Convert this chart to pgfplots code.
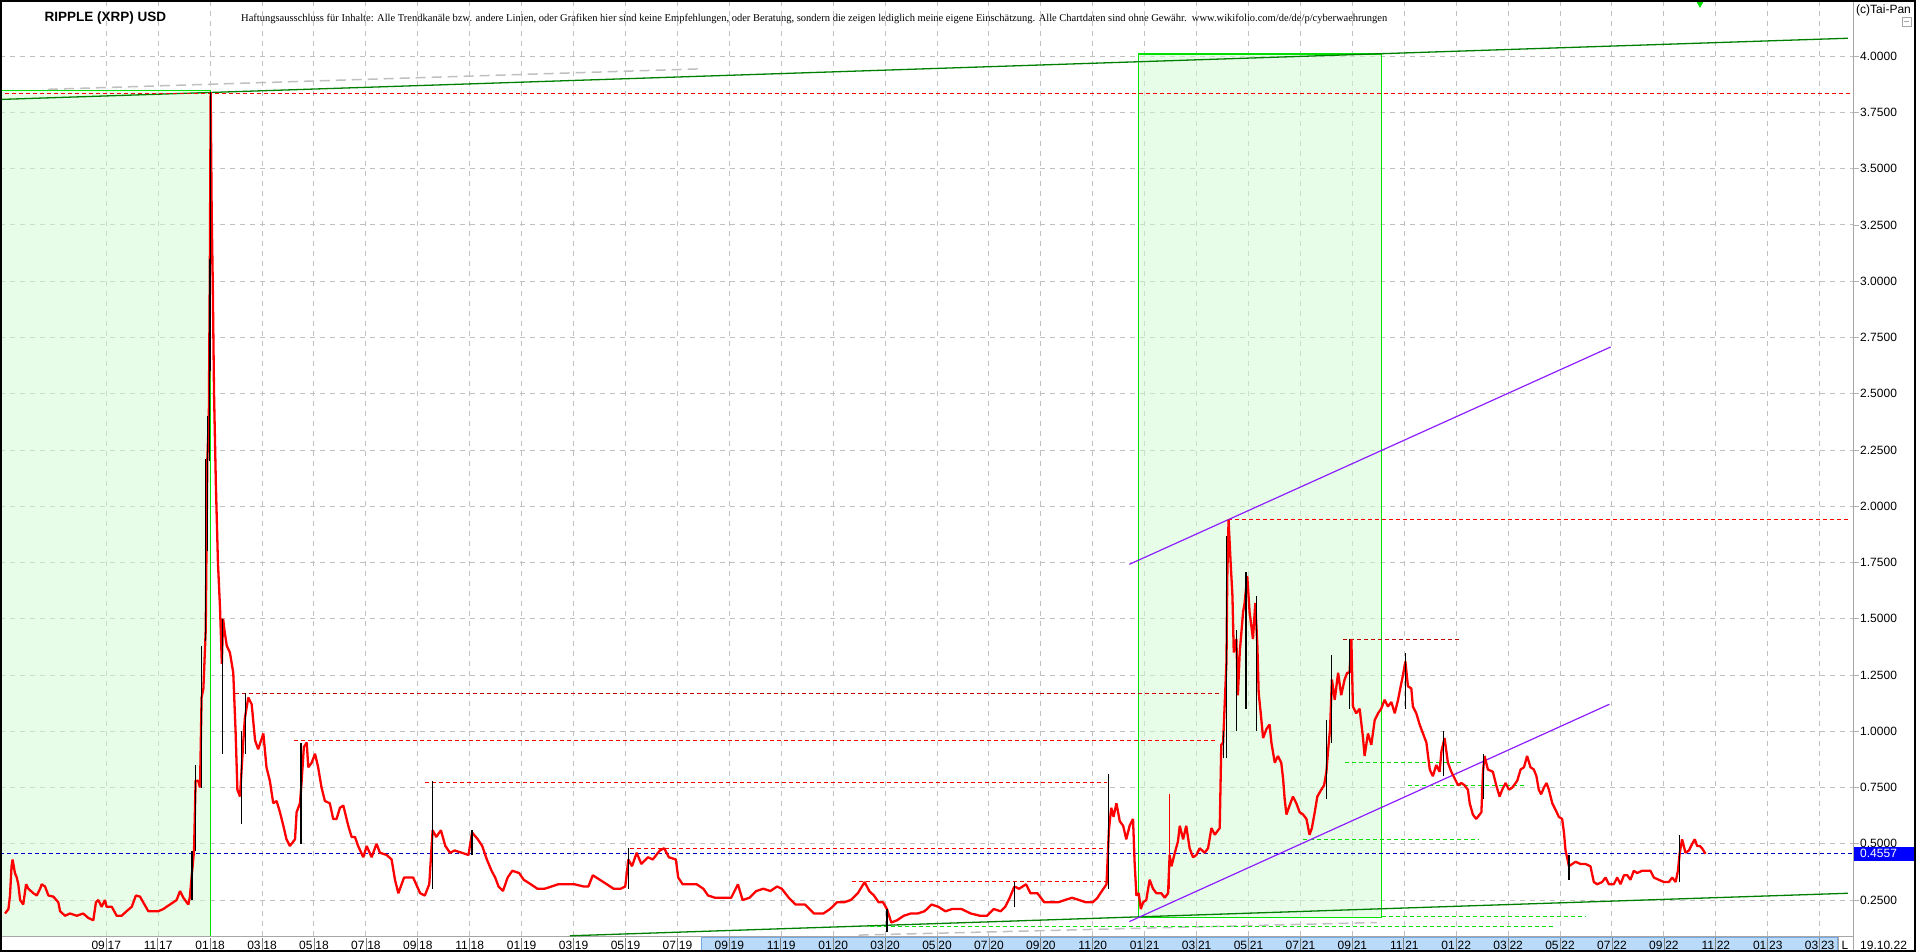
\documentclass[border=0pt]{standalone}
\usepackage{pgfplots}
\pgfplotsset{compat=1.18}
\usepackage{pgfplotstable}
\usepackage{fontspec}
\setmainfont{Liberation Sans}
\newfontfamily\discfont{Liberation Serif}

\definecolor{xred}{RGB}{255,0,0}
\definecolor{lgreen}{RGB}{0,225,0}
\definecolor{dgreen}{RGB}{0,128,0}
\definecolor{rectfill}{RGB}{210,252,210}
\definecolor{gridgray}{RGB}{192,192,192}
\definecolor{purp}{RGB}{140,30,255}
\definecolor{lineblue}{RGB}{0,0,200}
\definecolor{boxblue}{RGB}{0,0,255}
\definecolor{bandblue}{RGB}{185,218,248}
\definecolor{bandedge}{RGB}{120,170,225}

\newcommand{\tl}[2]{#1\hspace{1pt}{\color{gray}\rule[-2pt]{0.8pt}{13pt}}\hspace{1pt}#2}

% price (closing values), x = months since Jan 2017
\pgfplotstableread{
m v
4.10 0.19
4.23 0.21
4.29 0.27
4.35 0.40
4.39 0.43
4.48 0.37
4.55 0.35
4.61 0.32
4.68 0.25
4.80 0.23
4.91 0.32
5.00 0.30
5.19 0.28
5.32 0.27
5.45 0.30
5.51 0.32
5.64 0.31
5.77 0.27
5.96 0.265
6.15 0.24
6.22 0.20
6.41 0.18
6.60 0.19
6.86 0.18
7.11 0.19
7.31 0.17
7.50 0.16
7.60 0.24
7.69 0.25
7.82 0.22
7.95 0.25
8.01 0.22
8.21 0.22
8.40 0.18
8.59 0.18
8.78 0.20
8.98 0.22
9.14 0.27
9.30 0.265
9.42 0.24
9.62 0.20
9.81 0.20
10.00 0.20
10.20 0.21
10.32 0.22
10.52 0.235
10.71 0.25
10.84 0.29
10.97 0.26
11.16 0.23
11.22 0.265
11.30 0.37
11.38 0.47
11.44 0.78
11.54 0.78
11.61 0.75
11.67 1.15
11.74 1.19
11.83 1.45
11.89 2.20
11.95 2.40
11.99 3.10
12.02 3.84
12.06 3.30
12.10 3.00
12.15 2.50
12.22 2.10
12.30 1.75
12.38 1.55
12.45 1.30
12.50 1.50
12.55 1.45
12.64 1.38
12.76 1.35
12.89 1.26
12.98 1.00
13.05 0.74
13.15 0.71
13.28 0.96
13.34 1.06
13.47 1.15
13.60 1.12
13.73 0.96
13.85 0.92
14.05 0.99
14.17 0.84
14.30 0.78
14.43 0.68
14.56 0.69
14.69 0.64
14.82 0.58
14.94 0.52
15.07 0.49
15.27 0.52
15.33 0.64
15.46 0.68
15.52 0.77
15.61 0.93
15.72 0.95
15.78 0.84
15.91 0.86
16.04 0.90
16.16 0.84
16.29 0.75
16.42 0.69
16.61 0.68
16.74 0.61
16.87 0.61
17.00 0.66
17.13 0.67
17.32 0.58
17.45 0.53
17.58 0.53
17.70 0.49
17.90 0.44
18.03 0.49
18.22 0.44
18.41 0.50
18.54 0.46
18.80 0.45
18.99 0.43
19.12 0.34
19.25 0.28
19.47 0.35
19.82 0.35
20.09 0.28
20.27 0.27
20.44 0.32
20.57 0.56
20.71 0.53
20.89 0.56
21.06 0.49
21.24 0.46
21.42 0.47
21.69 0.46
21.95 0.45
22.09 0.55
22.31 0.52
22.48 0.49
22.66 0.43
22.84 0.38
22.98 0.35
23.11 0.31
23.28 0.29
23.46 0.35
23.64 0.38
23.90 0.37
24.08 0.34
24.35 0.32
24.61 0.30
24.88 0.30
25.15 0.31
25.41 0.32
25.68 0.32
26.03 0.32
26.39 0.31
26.57 0.31
26.74 0.36
27.01 0.34
27.28 0.32
27.54 0.30
27.81 0.30
27.99 0.31
28.11 0.43
28.25 0.40
28.43 0.46
28.61 0.41
28.87 0.44
29.05 0.43
29.32 0.47
29.49 0.48
29.67 0.44
29.94 0.43
30.03 0.35
30.20 0.32
30.47 0.32
30.74 0.32
31.00 0.30
31.18 0.27
31.45 0.26
31.71 0.26
32.07 0.26
32.33 0.32
32.51 0.25
32.78 0.26
33.04 0.29
33.31 0.30
33.58 0.29
33.84 0.31
34.02 0.30
34.29 0.26
34.55 0.23
34.91 0.23
35.26 0.19
35.62 0.19
35.88 0.21
36.15 0.24
36.42 0.24
36.68 0.25
36.95 0.28
37.21 0.33
37.39 0.29
37.57 0.27
37.75 0.24
37.92 0.24
38.07 0.21
38.24 0.15
38.46 0.16
38.72 0.18
38.99 0.19
39.25 0.19
39.52 0.20
39.79 0.23
40.05 0.22
40.32 0.20
40.59 0.21
40.94 0.21
41.30 0.19
41.65 0.18
41.92 0.18
42.18 0.21
42.45 0.20
42.63 0.22
42.80 0.26
42.98 0.31
43.16 0.30
43.43 0.32
43.60 0.28
43.87 0.28
44.13 0.24
44.40 0.24
44.67 0.24
44.93 0.25
45.20 0.26
45.47 0.25
45.73 0.24
46.00 0.24
46.18 0.26
46.35 0.29
46.53 0.32
46.62 0.56
46.71 0.66
46.80 0.62
46.91 0.68
47.04 0.60
47.17 0.58
47.29 0.52
47.42 0.58
47.55 0.61
47.61 0.42
47.68 0.27
47.77 0.28
47.85 0.21
47.94 0.24
48.06 0.25
48.19 0.34
48.32 0.30
48.45 0.28
48.64 0.28
48.77 0.26
48.90 0.28
48.96 0.45
49.03 0.40
49.16 0.46
49.28 0.51
49.35 0.58
49.48 0.52
49.60 0.58
49.73 0.48
49.86 0.44
49.99 0.45
50.12 0.48
50.31 0.46
50.44 0.48
50.57 0.57
50.70 0.54
50.89 0.57
50.95 0.94
51.02 0.95
51.15 1.31
51.18 1.68
51.23 1.94
51.31 1.75
51.38 1.60
51.43 1.35
51.53 1.41
51.59 1.16
51.66 1.35
51.79 1.53
51.85 1.57
51.95 1.69
52.04 1.53
52.17 1.41
52.26 1.57
52.34 1.38
52.39 1.17
52.47 1.08
52.56 0.97
52.69 1.01
52.81 1.03
52.88 0.95
53.01 0.86
53.13 0.89
53.26 0.86
53.33 0.79
53.39 0.70
53.46 0.63
53.58 0.67
53.71 0.71
53.84 0.68
53.97 0.64
54.10 0.63
54.23 0.61
54.35 0.54
54.44 0.57
54.55 0.64
54.65 0.71
54.80 0.74
54.91 0.76
55.00 0.82
55.06 0.91
55.14 1.01
55.21 1.23
55.32 1.14
55.45 1.26
55.57 1.16
55.70 1.23
55.80 1.26
55.89 1.26
55.96 1.41
56.02 1.11
56.15 1.08
56.28 1.10
56.41 0.97
56.47 0.89
56.60 0.99
56.73 0.94
56.86 1.05
56.99 1.08
57.11 1.10
57.24 1.14
57.37 1.11
57.50 1.13
57.63 1.08
57.76 1.14
57.86 1.20
57.95 1.25
58.04 1.31
58.14 1.20
58.27 1.19
58.33 1.11
58.46 1.08
58.59 1.03
58.72 0.99
58.85 0.95
58.98 0.83
59.10 0.80
59.23 0.85
59.36 0.82
59.43 0.91
59.55 0.97
59.68 0.86
59.81 0.82
59.94 0.79
60.07 0.76
60.20 0.77
60.32 0.76
60.45 0.74
60.52 0.68
60.64 0.63
60.77 0.61
60.97 0.64
61.03 0.82
61.09 0.89
61.22 0.83
61.41 0.82
61.54 0.76
61.67 0.71
61.77 0.74
61.90 0.77
62.03 0.74
62.16 0.75
62.35 0.78
62.48 0.83
62.61 0.84
62.73 0.89
62.86 0.84
62.99 0.83
63.09 0.80
63.18 0.74
63.27 0.72
63.38 0.75
63.48 0.77
63.57 0.74
63.70 0.68
63.83 0.65
63.95 0.62
64.08 0.61
64.15 0.55
64.21 0.47
64.27 0.44
64.34 0.40
64.47 0.41
64.60 0.42
64.79 0.41
64.98 0.41
65.17 0.40
65.30 0.33
65.43 0.32
65.62 0.33
65.75 0.35
65.88 0.32
66.07 0.32
66.20 0.35
66.33 0.32
66.46 0.36
66.59 0.36
66.71 0.34
66.84 0.38
66.97 0.37
67.16 0.38
67.36 0.38
67.48 0.38
67.61 0.35
67.80 0.34
68.00 0.33
68.19 0.33
68.32 0.35
68.45 0.33
68.54 0.38
68.61 0.46
68.70 0.52
68.83 0.46
68.96 0.47
69.09 0.50
69.19 0.52
69.28 0.49
69.38 0.49
69.47 0.48
69.60 0.4557
}\price

% high-low ranges of the larger rising candles
\pgfplotstableread{
m lo hi
11.30 0.25 0.47
11.44 0.47 0.85
11.67 0.75 1.38
11.83 1.40 2.21
11.90 1.80 2.40
11.96 2.20 3.10
12.02 2.60 3.84
12.47 0.90 1.50
13.20 0.59 1.00
13.35 0.90 1.17
15.50 0.50 0.95
20.57 0.30 0.78
22.09 0.45 0.56
28.11 0.30 0.48
38.07 0.11 0.21
42.98 0.22 0.33
46.62 0.30 0.81
51.02 0.88 1.00
51.15 0.88 1.87
51.53 1.00 1.45
51.90 1.10 1.71
52.30 1.00 1.60
55.00 0.70 1.05
55.21 0.95 1.34
55.90 1.10 1.41
58.04 1.10 1.35
59.50 0.80 1.00
61.05 0.70 0.90
64.34 0.34 0.45
68.60 0.33 0.54
}\wicks

\begin{document}
\begin{tikzpicture}
\useasboundingbox (0,0) rectangle (1916pt,-952pt);
% highlighted range in the date band
\fill[bandblue] (701pt,-937pt) rectangle (1837pt,-950.5pt);
\draw[bandedge, line width=0.8pt] (701pt,-937pt) rectangle (1837pt,-950.5pt);

\begin{axis}[
  at={(0pt,0pt)}, anchor=north west,
  scale only axis, width=1853pt, height=936pt,
  xmin=3.905, xmax=75.285, ymin=0.09, ymax=4.25,
  clip=false,
  axis line style={draw=gray!70, line width=1pt},
  xtick={8,10,...,74},
  xticklabels={\tl{09}{17},\tl{11}{17},\tl{01}{18},\tl{03}{18},\tl{05}{18},\tl{07}{18},\tl{09}{18},\tl{11}{18},\tl{01}{19},\tl{03}{19},\tl{05}{19},\tl{07}{19},\tl{09}{19},\tl{11}{19},\tl{01}{20},\tl{03}{20},\tl{05}{20},\tl{07}{20},\tl{09}{20},\tl{11}{20},\tl{01}{21},\tl{03}{21},\tl{05}{21},\tl{07}{21},\tl{09}{21},\tl{11}{21},\tl{01}{22},\tl{03}{22},\tl{05}{22},\tl{07}{22},\tl{09}{22},\tl{11}{22},\tl{01}{23},\tl{03}{23}},
  xtick style={draw=none},
  ytick={0.25,0.5,0.75,1,1.25,1.5,1.75,2,2.25,2.5,2.75,3,3.25,3.5,3.75,4},
  ytick pos=right, yticklabel pos=right,
  tick align=outside, major tick length=6pt,
  ytick style={draw=gray!60, line width=0.8pt},
  grid=major,
  major grid style={draw=gridgray, line width=1pt, dash pattern=on 5pt off 5pt},
  yticklabel style={font=\fontsize{12}{12}\selectfont, inner sep=0pt, xshift=1pt,
    /pgf/number format/.cd, fixed, fixed zerofill, precision=4, assume math mode=true},
  xticklabel style={font=\fontsize{12}{12}\selectfont, anchor=base, yshift=-7.3pt, inner sep=0pt},
]
% shaded time zones
\addplot[draw=none, fill=rectfill, fill opacity=0.5, forget plot] coordinates {(3.905,0.09) (3.905,3.847) (12.02,3.847) (12.02,0.09)} --cycle;
\addplot[lgreen, line width=1.3pt, forget plot] coordinates {(3.905,3.847) (12.02,3.847) (12.02,0.09)};
\addplot[draw=none, fill=rectfill, fill opacity=0.5, forget plot] coordinates {(47.75,0.173) (47.75,4.01) (57.13,4.01) (57.13,0.173)} --cycle;
\addplot[lgreen, line width=1.3pt, forget plot] coordinates {(47.75,0.173) (47.75,4.01) (57.13,4.01) (57.13,0.173) (47.75,0.173)};

% long trend lines
\addplot[gridgray, line width=1.5pt, dash pattern=on 10pt off 6pt, forget plot] coordinates {(5.75,3.853) (30.9,3.944)};
\addplot[dgreen, line width=1.3pt, forget plot] coordinates {(3.905,3.808) (75.09,4.08)};
\addplot[gridgray, line width=1.5pt, dash pattern=on 10pt off 6pt, forget plot] coordinates {(36.98,0.094) (56.94,0.15)};
\addplot[dgreen, line width=1.3pt, forget plot] coordinates {(25.86,0.091) (75.09,0.28)};

% horizontal resistance / support lines
\addplot[xred, line width=1pt, dash pattern=on 4pt off 3pt, forget plot] coordinates {(4.1,3.835) (75.2,3.835)};
\addplot[xred, line width=1pt, dash pattern=on 4pt off 3pt, forget plot] coordinates {(51.2,1.939) (75.1,1.939)};
\addplot[red!75!black, line width=1pt, dash pattern=on 4pt off 3pt, forget plot] coordinates {(55.65,1.409) (60.12,1.409)};
\addplot[red!80!black, line width=1pt, dash pattern=on 4pt off 3pt, forget plot] coordinates {(12.96,1.168) (50.97,1.168)};
\addplot[xred, line width=1pt, dash pattern=on 4pt off 3pt, forget plot] coordinates {(15.23,0.961) (50.82,0.961)};
\addplot[xred, line width=1pt, dash pattern=on 4pt off 3pt, forget plot] coordinates {(20.28,0.773) (46.56,0.773)};
\addplot[xred, line width=1pt, dash pattern=on 4pt off 3pt, forget plot] coordinates {(28.19,0.48) (46.39,0.48)};
\addplot[xred, line width=1pt, dash pattern=on 4pt off 3pt, forget plot] coordinates {(36.71,0.331) (46.56,0.331)};
\addplot[lineblue, line width=1.1pt, dash pattern=on 4pt off 3pt, forget plot] coordinates {(3.905,0.4557) (75.285,0.4557)};
\addplot[lgreen, line width=1.1pt, dash pattern=on 4pt off 3pt, forget plot] coordinates {(55.71,0.861) (60.2,0.861)};
\addplot[lgreen, line width=1.1pt, dash pattern=on 4pt off 3pt, forget plot] coordinates {(58.15,0.757) (62.72,0.757)};
\addplot[lgreen, line width=1.1pt, dash pattern=on 4pt off 3pt, forget plot] coordinates {(54.11,0.52) (60.89,0.52)};
\addplot[lgreen, line width=1.1pt, dash pattern=on 4pt off 3pt, forget plot] coordinates {(57.13,0.175) (64.99,0.175)};
\addplot[lgreen, line width=1.1pt, dash pattern=on 4pt off 3pt, forget plot] coordinates {(37.4,0.133) (63.75,0.133)};

% trend channel
\addplot[purp, line width=1.2pt, forget plot] coordinates {(47.41,1.742) (65.95,2.708)};
\addplot[purp, line width=1.2pt, forget plot] coordinates {(47.41,0.154) (65.9,1.12)};

% price
\addplot[xred, line width=2.3pt, line join=bevel, forget plot] table[x=m, y=v] {\price};
\addplot[draw=none, mark=none, forget plot,
  error bars/.cd, y dir=plus, y explicit, error mark=none,
  error bar style={draw=black, solid, line width=1.2pt}]
  table[x=m, y=lo, y error plus expr=\thisrow{hi}-\thisrow{lo}] {\wicks};
\addplot[draw=none, mark=none, forget plot,
  error bars/.cd, y dir=plus, y explicit, error mark=none,
  error bar style={draw=xred, solid, line width=1.2pt}]
  coordinates {(48.96,0.30) +- (0,0.42)};

% marker at top
\addplot[only marks, mark=triangle*, mark size=4pt, mark options={rotate=180, fill=lgreen, draw=lgreen}, forget plot] coordinates {(69.39,4.235)};

\coordinate (cur) at (axis cs:75.285,0.4557);
\end{axis}

% last price box
\node[fill=boxblue, text=white, anchor=west, inner sep=0pt, minimum width=62pt, minimum height=14pt, text width=58pt, align=left, font=\fontsize{12}{12}\selectfont, xshift=1pt] at (cur) {\hspace{4pt}0.4557};

% date band extras
\draw[gray!70, line width=1pt] (1853pt,-936pt) -- (1853pt,-952pt);
\draw[gray!70, line width=1pt] (1838pt,-936pt) -- (1838pt,-952pt);
\node[anchor=base, font=\fontsize{12}{12}\selectfont, inner sep=0pt] at (1845pt,-949.3pt) {L};
\node[anchor=base west, font=\fontsize{12}{12}\selectfont, inner sep=0pt] at (1860pt,-949.3pt) {19.10.22};

% titles
\node[anchor=west, font=\bfseries\fontsize{13.5}{13.5}\selectfont, inner sep=0pt] at (44.5pt,-18pt) {RIPPLE (XRP) USD};
\node[anchor=west, inner sep=0pt] at (241pt,-19pt) {\resizebox{1146pt}{!}{\discfont\fontsize{12}{12}\selectfont Haftungsausschluss für Inhalte: Alle Trendkanäle bzw. andere Linien, oder Grafiken hier sind keine Empfehlungen, oder Beratung, sondern die zeigen lediglich meine eigene Einschätzung. Alle Chartdaten sind ohne Gewähr.\ \ www.wikifolio.com/de/de/p/cyberwaehrungen}};
\node[anchor=west, font=\fontsize{12}{12}\selectfont, inner sep=0pt] at (1856pt,-10pt) {(c)Tai-Pan};
\draw[gray!70, line width=0.8pt] (1902pt,-17pt) rectangle (1911pt,-26pt);
\draw[gray!70, line width=0.8pt] (1904pt,-21.5pt) -- (1909pt,-21.5pt);

% outer frame
\draw[black, line width=1.6pt] (0.8pt,-0.8pt) rectangle (1915.2pt,-951.2pt);
\end{tikzpicture}
\end{document}
